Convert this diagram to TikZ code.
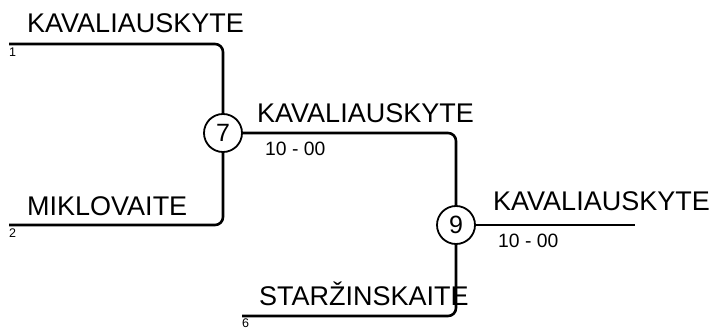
\documentclass[tikz,border=0pt]{standalone}
\usepackage{fontspec}
\setmainfont{Liberation Sans}
\usetikzlibrary{positioning}

\begin{document}
\begin{tikzpicture}[x=1pt, y=-1pt,
    match/.style={circle, draw, line width=1.8pt, minimum size=38pt, inner sep=0pt, font=\fontsize{25}{25}\selectfont},
    wire/.style={line width=2.6pt, rounded corners=8pt},
    player/.style={anchor=base west, inner sep=0pt, font=\fontsize{27}{27}\selectfont},
    score/.style={anchor=base west, inner sep=0pt, font=\fontsize{19.3}{19}\selectfont},
    seed/.style={anchor=north west, inner sep=0pt, font=\fontsize{12.5}{12}\selectfont}]
    \useasboundingbox (0,0) rectangle (714,329);

    \node[match] (m7) at (223,133) {7};
    \node[match] (m9) at (456,225) {9};

    \coordinate (s1) at (9,44);
    \coordinate (s2) at (9,225);
    \coordinate (s6) at (242,316);
    \coordinate (w9) at (635,225);

    \draw[wire] (s1) -| (m7);
    \draw[wire] (s2) -| (m7);
    \draw[wire] (m7) -| (m9);
    \draw[wire] (s6) -| (m9);
    \draw[wire] (m9) -- (w9);

    \node[player] (p1) at (27,33) {KAVALIAUSKYTE};
    \node[player] (p2) at (27,215) {MIKLOVAITE};
    \node[player] (p6) at (259,305) {STARŽINSKAITE};
    \node[player] (p7) at (257,122) {KAVALIAUSKYTE};
    \node[player] (p9) at (493,210) {KAVALIAUSKYTE};

    \node[score] (r7) at (265,155) {10 - 00};
    \node[score] (r9) at (498,247) {10 - 00};

    \node[seed] (n1) at (9,48) {1};
    \node[seed] (n2) at (9,229) {2};
    \node[seed] (n6) at (242,318.5) {6};
\end{tikzpicture}
\end{document}
